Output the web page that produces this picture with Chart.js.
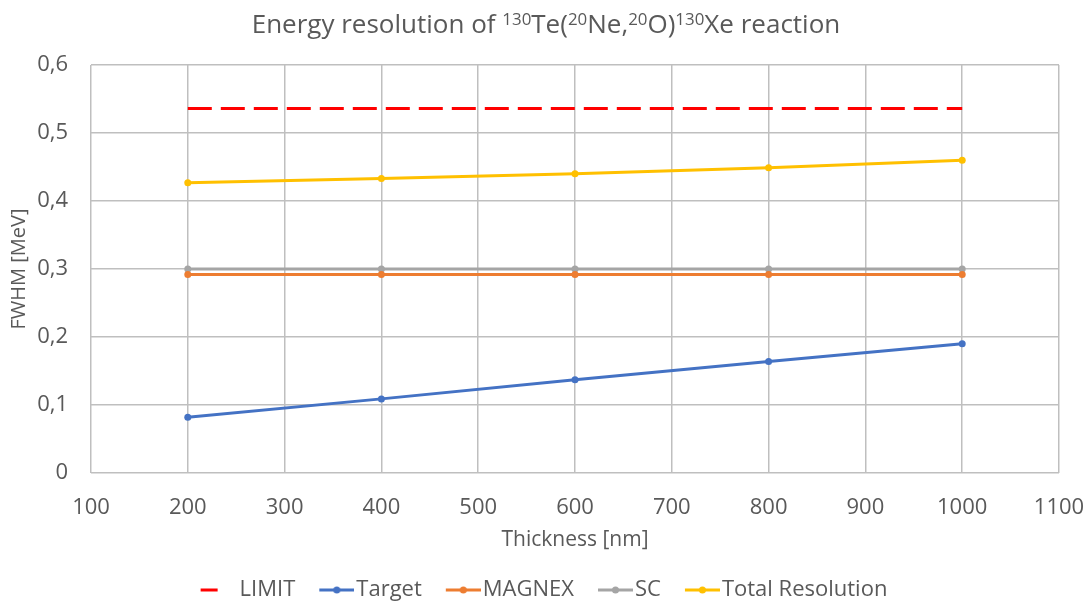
<!DOCTYPE html>
<html>
<head>
<meta charset="utf-8">
<script src="https://cdn.jsdelivr.net/npm/chart.js@4.4.0/dist/chart.umd.min.js"></script>
<style>
  html, body { margin: 0; padding: 0; background: #fff; }
  #wrap { position: relative; width: 1092px; height: 602px; }
  #title {
    position: absolute; left: 0; right: 0; top: 5px;
    text-align: center; font-family: 'Open Sans', sans-serif;
    font-size: 26px; color: #595959; white-space: nowrap;
  }
  #title sup { font-size: 0.65em; vertical-align: 0.5em; line-height: 0; }
</style>
</head>
<body>
<div id="wrap">
  <div id="title">Energy resolution of <sup>130</sup>Te(<sup>20</sup>Ne,<sup>20</sup>O)<sup>130</sup>Xe reaction</div>
  <canvas id="chart" width="1092" height="602"></canvas>
</div>
<script>
// values
const thickness = [200, 400, 600, 800, 1000];
const limitVals = [0.536, 0.536, 0.536, 0.536, 0.536];
const targetVals = [0.082, 0.109, 0.137, 0.164, 0.190];
const magnexVals = [0.292, 0.292, 0.292, 0.292, 0.292];
const scVals = [0.300, 0.300, 0.300, 0.300, 0.300];
const totalVals = [0.427, 0.433, 0.440, 0.449, 0.460];
const seriesNames = ['LIMIT', 'Target', 'MAGNEX', 'SC', 'Total Resolution'];
const seriesColors = ['#ff0000', '#4472c4', '#ed7d31', '#a5a5a5', '#ffc000'];

const textColor = '#595959';
const gridColor = '#bfbfbf';
const fontFamily = "'Open Sans', sans-serif";

const toPoints = vals => vals.map((v, i) => ({ x: thickness[i], y: v }));

// little legend pictures: line with a dot, or a short red dash for LIMIT
const makeMarker = (color, dashOnly) => {
    const c = document.createElement('canvas');
    c.width = 60;
    c.height = 14;
    const ctx = c.getContext('2d');
    ctx.strokeStyle = color;
    ctx.lineWidth = 3;
    ctx.beginPath();
    if (dashOnly) {
        ctx.moveTo(23, 7);
        ctx.lineTo(40, 7);
        ctx.stroke();
    } else {
        ctx.moveTo(25, 7);
        ctx.lineTo(60, 7);
        ctx.stroke();
        ctx.fillStyle = color;
        ctx.beginPath();
        ctx.arc(42.5, 7, 3.5, 0, Math.PI * 2);
        ctx.fill();
    }
    return c;
};
const markers = seriesColors.map((col, i) => makeMarker(col, i === 0));

const lineSet = (idx, vals, extra) => Object.assign({
    label: seriesNames[idx],
    data: toPoints(vals),
    borderColor: seriesColors[idx],
    backgroundColor: seriesColors[idx],
    borderWidth: 3,
    pointRadius: 3.5,
    pointHoverRadius: 3.5,
    pointBorderWidth: 0,
    tension: 0
}, extra || {});

new Chart(document.getElementById('chart'), {
    type: 'line',
    data: {
        datasets: [
            lineSet(0, limitVals, { borderDash: [24, 9], pointRadius: 0 }),
            lineSet(1, targetVals),
            lineSet(2, magnexVals),
            lineSet(3, scVals),
            lineSet(4, totalVals)
        ]
    },
    options: {
        responsive: false,
        animation: false,
        layout: { padding: { top: 65, left: 0, right: 18, bottom: 0 } },
        plugins: {
            title: { display: false },
            tooltip: { enabled: false },
            legend: {
                position: 'bottom',
                maxHeight: 31,
                labels: {
                    usePointStyle: true,
                    pointStyleWidth: 42,
                    padding: 8,
                    color: textColor,
                    font: { family: fontFamily, size: 22 },
                    generateLabels: chart => chart.data.datasets.map((ds, i) => ({
                        text: ds.label,
                        fontColor: textColor,
                        pointStyle: markers[i],
                        lineWidth: 0,
                        strokeStyle: 'transparent',
                        fillStyle: 'transparent',
                        hidden: false,
                        datasetIndex: i
                    }))
                }
            }
        },
        scales: {
            x: {
                type: 'linear',
                min: 100,
                max: 1100,
                afterFit: s => {
                    s.height = 98;
                    s.paddingLeft = 0;
                    s.paddingRight = 0;
                },
                grid: { color: gridColor, lineWidth: 1.5, drawTicks: false },
                border: { display: false },
                ticks: {
                    stepSize: 100,
                    padding: 22,
                    color: textColor,
                    font: { family: fontFamily, size: 22 },
                    callback: v => String(v)
                },
                title: {
                    display: true,
                    text: 'Thickness [nm]',
                    color: textColor,
                    font: { family: fontFamily, size: 21 },
                    padding: { top: 0, bottom: 18 }
                }
            },
            y: {
                min: 0,
                max: 0.6,
                afterFit: s => { s.width = 91; },
                grid: { color: gridColor, lineWidth: 1.5, drawTicks: false },
                border: { display: false },
                ticks: {
                    stepSize: 0.1,
                    padding: 23,
                    color: textColor,
                    font: { family: fontFamily, size: 22 },
                    callback: v => v === 0 ? '0' : v.toFixed(1).replace('.', ',')
                },
                title: {
                    display: true,
                    text: 'FWHM [MeV]',
                    color: textColor,
                    font: { family: fontFamily, size: 20 },
                    padding: { top: 7, bottom: 0 }
                }
            },
            // blank axis on the right, only to keep the plot edge where the reference has it
            yRight: {
                position: 'right',
                afterFit: s => { s.width = 15; },
                grid: { display: false, drawTicks: false },
                border: { display: false },
                ticks: { display: false }
            }
        }
    }
});
</script>
</body>
</html>
